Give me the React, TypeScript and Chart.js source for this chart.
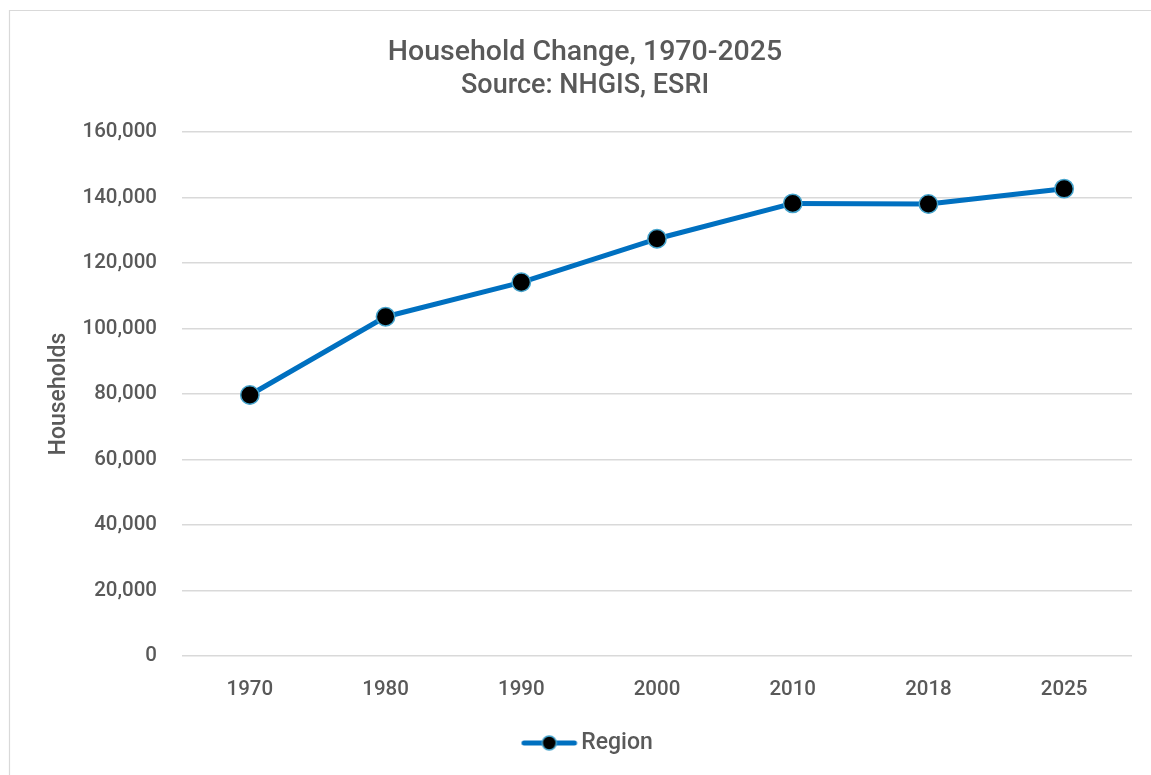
import React, { useEffect, useRef } from 'react';
import { Chart, registerables } from 'chart.js';

Chart.register(...registerables);

const categories: string[] = ['1970', '1980', '1990', '2000', '2010', '2018', '2025'];
const regionHouseholds: number[] = [79700, 103600, 114100, 127400, 138200, 138000, 142700];
const yMin = 0;
const yMax = 160000;
const yStep = 20000;
const titleText = 'Household Change, 1970-2025';
const subtitleText = 'Source: NHGIS, ESRI';
const yAxisTitle = 'Households';
const seriesName = 'Region';

const FONT = 'Roboto';
const WEIGHT = '500';
const TEXT = '#595959';
const LINE = '#0070c0';
const MARKER_BORDER = '#45a3cc';
const GRID = '#d9d9d9';

function makeLegendIcon(): HTMLCanvasElement {
  const c = document.createElement('canvas');
  c.width = 80;
  c.height = 22;
  const ctx = c.getContext('2d')!;
  ctx.strokeStyle = LINE;
  ctx.lineWidth = 5;
  ctx.lineCap = 'round';
  ctx.beginPath();
  ctx.moveTo(20.5, 11);
  ctx.lineTo(71, 11);
  ctx.stroke();
  ctx.beginPath();
  ctx.arc(45.75, 11, 7, 0, Math.PI * 2);
  ctx.fillStyle = '#000000';
  ctx.fill();
  ctx.lineWidth = 1.5;
  ctx.strokeStyle = MARKER_BORDER;
  ctx.stroke();
  return c;
}

const frame = {
  id: 'frame',
  beforeDraw(chart: any) {
    const ctx = chart.ctx;
    ctx.save();
    ctx.fillStyle = '#ffffff';
    ctx.fillRect(0, 0, chart.width, chart.height);
    ctx.strokeStyle = GRID;
    ctx.lineWidth = 1.2;
    ctx.beginPath();
    ctx.moveTo(9.5, chart.height);
    ctx.lineTo(9.5, 10.5);
    ctx.lineTo(chart.width, 10.5);
    ctx.stroke();
    ctx.restore();
  },
};

export default function App() {
  const ref = useRef<HTMLCanvasElement | null>(null);
  useEffect(() => {
    document.body.style.margin = '0';
    document.body.style.overflow = 'hidden';
    const canvas = ref.current!;
    const chart = new Chart(canvas, {
      type: 'line',
      data: {
        labels: categories,
        datasets: [
          {
            label: seriesName,
            data: regionHouseholds,
            borderColor: LINE,
            borderWidth: 5,
            backgroundColor: '#000000',
            pointBackgroundColor: '#000000',
            pointBorderColor: MARKER_BORDER,
            pointBorderWidth: 1.5,
            pointRadius: 9.2,
            pointHoverRadius: 9.2,
            tension: 0,
            borderJoinStyle: 'round',
            borderCapStyle: 'round',
          },
        ],
      },
      options: {
        animation: false,
        responsive: false,
        maintainAspectRatio: false,
        layout: { padding: { left: 19, right: 0, top: 0, bottom: 10.5 } },
        plugins: {
          tooltip: { enabled: false },
          title: {
            display: true,
            text: titleText,
            color: TEXT,
            font: { family: FONT, size: 28.5, weight: WEIGHT },
            padding: { top: 36, bottom: 0 },
          },
          subtitle: {
            display: true,
            text: subtitleText,
            color: TEXT,
            font: { family: FONT, size: 27, weight: WEIGHT },
            padding: { top: 0, bottom: 29.4 },
          },
          legend: {
            display: true,
            position: 'bottom',
            labels: {
              usePointStyle: true,
              pointStyle: makeLegendIcon() as any,
              pointStyleWidth: 52.5,
              color: TEXT,
              font: { family: FONT, size: 23, weight: WEIGHT },
              padding: 10,
            },
          },
        },
        scales: {
          x: {
            type: 'category',
            offset: true,
            grid: { display: false, drawTicks: false },
            border: { display: false },
            ticks: {
              color: TEXT,
              font: { family: FONT, size: 20.5, weight: WEIGHT },
              padding: 22,
              maxRotation: 0,
            },
            afterFit(scale: any) {
              scale.height = 65.5;
            },
          },
          y: {
            min: yMin,
            max: yMax,
            grid: { color: GRID, lineWidth: 1.4, drawTicks: false },
            border: { display: false },
            ticks: {
              stepSize: yStep,
              color: TEXT,
              font: { family: FONT, size: 20.5, weight: WEIGHT },
              padding: 25,
              callback: (v: any) => Number(v).toLocaleString('en-US'),
            },
            title: {
              display: true,
              text: yAxisTitle,
              color: TEXT,
              font: { family: FONT, size: 23, weight: WEIGHT },
              padding: { top: 26, bottom: 0 },
            },
            afterFit(scale: any) {
              scale.width = 163;
            },
          },
          yRight: {
            position: 'right',
            min: yMin,
            max: yMax,
            grid: { display: false, drawTicks: false },
            border: { display: false },
            ticks: { display: false },
            afterFit(scale: any) {
              scale.width = 19;
            },
          },
        },
      },
      plugins: [frame],
    });
    return () => chart.destroy();
  }, []);
  return <canvas ref={ref} width={1151} height={775} style={{ display: 'block' }} />;
}
